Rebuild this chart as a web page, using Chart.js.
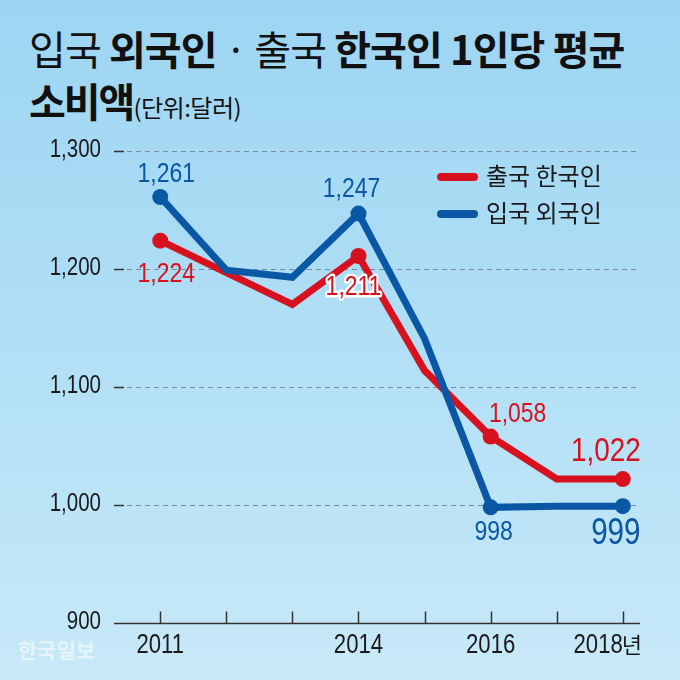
<!DOCTYPE html>
<html>
<head>
<meta charset="utf-8">
<script src="https://cdn.jsdelivr.net/npm/chart.js@4.4.1/dist/chart.umd.min.js"></script>
<style>
  html, body { margin: 0; padding: 0; }
  body { width: 680px; height: 680px; overflow: hidden;
         background: linear-gradient(to bottom, #9dd5f2 0%, #b3e0f6 55%, #c8e9f8 100%);
         font-family: "Noto Sans CJK KR", "Noto Sans", sans-serif; position: relative; }
  #wrap { position: absolute; left: 0; top: 0; width: 680px; height: 680px; }
  .title { position: absolute; left: 29px; color: #111; white-space: nowrap;
           font-size: 40px; letter-spacing: -0.9px; line-height: 1; }
  .title b { font-weight: 700; }
  .title span.r { font-weight: 400; }
  #t1 { top: 28px; }
  #t2 { top: 80px; }
  #t2 b { letter-spacing: -2px; }
  #t2 small { font-size: 24px; font-weight: 400; letter-spacing: -0.5px; }
</style>
</head>
<body>
<div class="title" id="t1"><span class="r">입국</span> <b>외국인</b> <span class="r">·</span> <span class="r">출국</span> <b>한국인 1인당 평균</b></div>
<div class="title" id="t2"><b>소비액</b><small>(단위:달러)</small></div>
<div id="wrap"><canvas id="c" width="680" height="680"></canvas></div>
<script>
const years = [2011, 2012, 2013, 2014, 2015, 2016, 2017, 2018];
const yearLabels = ['2011', '', '', '2014', '', '2016', '', '2018년'];
const koreansOut = [1224, 1197, 1170, 1211, 1114, 1058, 1022, 1022];
const foreignersIn = [1261, 1199, 1193, 1247, 1141, 998, 999, 999];
const yTicks = [900, 1000, 1100, 1200, 1300];
const seriesNames = ['출국 한국인', '입국 외국인'];
const markerYears = [2011, 2014, 2016, 2018];

const RED = '#d8111e';
const BLUE = '#0a57a6';
const FONT = '"Noto Sans CJK KR", "Noto Sans", sans-serif';
const NUMFONT = '"Liberation Sans", Arial, sans-serif';
const SQ = 0.82; // horizontal condensing of numerals

function fmt(v) { return v.toLocaleString('en-US'); }
function pts(arr) { return years.map((y, i) => ({ x: y, y: arr[i] })); }
function radii(r) { return years.map(y => markerYears.includes(y) ? r : 0); }

function condText(ctx, s, x, y, size, align, fill, outline) {
  ctx.save();
  ctx.font = size + 'px ' + NUMFONT;
  ctx.textAlign = align;
  ctx.textBaseline = 'middle';
  ctx.translate(x, y);
  ctx.scale(SQ, 1);
  if (outline) {
    ctx.strokeStyle = '#ffffff';
    ctx.lineWidth = 5;
    ctx.lineJoin = 'round';
    ctx.strokeText(s, 0, 0);
  }
  ctx.fillStyle = fill;
  ctx.fillText(s, 0, 0);
  ctx.restore();
}

// label specs: [datasetIndex, year, dx, dy, fontSize, outline]
const labelSpecs = [
  [1, 2011, 6, -23, 28, false],
  [0, 2011, 6, 34, 28, false],
  [1, 2014, -7, -24, 28, false],
  [0, 2014, -5, 31, 28, true],
  [0, 2016, 27, -22, 28, false],
  [1, 2016, 3, 25, 28, false],
  [0, 2018, -17, -27, 34, false],
  [1, 2018, -7, 28, 36, false]
];

const overlay = {
  id: 'overlay',
  beforeDatasetsDraw(chart) {
    const ctx = chart.ctx, ca = chart.chartArea;
    const ys = chart.scales.y, xs = chart.scales.x;
    ctx.save();
    yTicks.forEach(v => {
      const py = Math.round(ys.getPixelForValue(v)) + 0.5;
      if (v === 900) return;
      ctx.strokeStyle = '#333';
      ctx.lineWidth = 1.5;
      ctx.setLineDash([]);
      ctx.beginPath(); ctx.moveTo(ca.left, py); ctx.lineTo(ca.left + 10, py); ctx.stroke();
      ctx.strokeStyle = '#7a8e9a';
      ctx.lineWidth = 1;
      ctx.setLineDash([5, 4]);
      ctx.beginPath(); ctx.moveTo(ca.left + 13, py); ctx.lineTo(ca.right - 3, py); ctx.stroke();
    });
    ctx.setLineDash([]);
    const by = Math.round(ys.getPixelForValue(900)) + 0.5;
    ctx.strokeStyle = '#333';
    ctx.lineWidth = 1.5;
    ctx.beginPath(); ctx.moveTo(ca.left, by); ctx.lineTo(ca.right, by); ctx.stroke();
    years.forEach(y => {
      const px = Math.round(xs.getPixelForValue(y)) + 0.5;
      ctx.beginPath(); ctx.moveTo(px, by); ctx.lineTo(px, by - 12); ctx.stroke();
    });
    // y tick labels
    yTicks.forEach(v => {
      condText(ctx, fmt(v), 101, ys.getPixelForValue(v) - 1, 25, 'right', '#1a1a1a', false);
    });
    // x labels
    years.forEach((y, i) => {
      const lab = yearLabels[i];
      if (!lab) return;
      const px = xs.getPixelForValue(y);
      if (lab.endsWith('년')) {
        ctx.font = '22px ' + FONT;
        ctx.textAlign = 'right';
        ctx.textBaseline = 'middle';
        ctx.fillStyle = '#1a1a1a';
        const w = ctx.measureText('년').width;
        ctx.fillText('년', 642, 645);
        condText(ctx, lab.slice(0, -1), 642 - w + 1, 646, 27, 'right', '#1a1a1a', false);
      } else {
        condText(ctx, lab, px, 646, 27, 'center', '#1a1a1a', false);
      }
    });
    // watermark
    ctx.textAlign = 'left';
    ctx.textBaseline = 'middle';
    ctx.font = 'bold 21px ' + FONT;
    ctx.fillStyle = 'rgba(255,255,255,0.55)';
    ctx.fillText('한국일보', 18, 650);
    // legend
    const leg = [[RED, seriesNames[0], 177], [BLUE, seriesNames[1], 214]];
    leg.forEach(([c, t, ly]) => {
      ctx.strokeStyle = c; ctx.lineWidth = 8; ctx.lineCap = 'round';
      ctx.beginPath(); ctx.moveTo(441, ly); ctx.lineTo(474, ly); ctx.stroke();
      ctx.fillStyle = '#1a1a1a';
      ctx.font = '24px ' + FONT;
      ctx.textAlign = 'left';
      ctx.fillText(t, 486, ly - 1);
    });
    ctx.restore();
  },
  afterDatasetsDraw(chart) {
    const ctx = chart.ctx;
    labelSpecs.forEach(([di, yr, dx, dy, fs, outline]) => {
      const arr = di === 0 ? koreansOut : foreignersIn;
      const i = years.indexOf(yr);
      const el = chart.getDatasetMeta(di).data[i];
      condText(ctx, fmt(arr[i]), el.x + dx, el.y + dy, fs, 'center', di === 0 ? RED : BLUE, outline);
    });
  }
};

new Chart(document.getElementById('c'), {
  type: 'line',
  data: {
    datasets: [
      { label: seriesNames[0], data: pts(koreansOut), borderColor: RED, backgroundColor: RED,
        borderWidth: 7, pointRadius: radii(8), pointBackgroundColor: RED, pointBorderWidth: 0,
        tension: 0, borderJoinStyle: 'miter', order: 2 },
      { label: seriesNames[1], data: pts(foreignersIn), borderColor: BLUE, backgroundColor: BLUE,
        borderWidth: 7, pointRadius: radii(8), pointBackgroundColor: BLUE, pointBorderWidth: 0,
        tension: 0, borderJoinStyle: 'miter', order: 1 }
    ]
  },
  options: {
    responsive: false,
    animation: false,
    devicePixelRatio: 1,
    layout: { padding: { left: 0, right: 40, top: 151, bottom: 0 } },
    plugins: { legend: { display: false }, tooltip: { enabled: false } },
    scales: {
      x: {
        type: 'linear', min: 2010.3, max: 2018.26,
        grid: { display: false }, border: { display: false },
        ticks: { display: false },
        afterFit(s) { s.height = 57; }
      },
      y: {
        min: 900, max: 1300,
        grid: { display: false }, border: { display: false },
        ticks: { display: false, stepSize: 100 },
        afterFit(s) { s.width = 114; }
      }
    }
  },
  plugins: [overlay]
});
</script>
</body>
</html>
